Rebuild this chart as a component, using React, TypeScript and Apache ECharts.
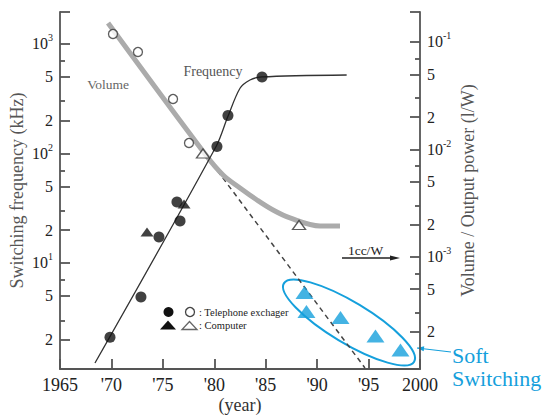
import React, { useEffect, useRef } from "react";
import * as echarts from "echarts";

const FONT = "Liberation Serif, DejaVu Serif, serif";
const BLUE = "#15a0dc";

// x axis (years)
const xMin = 1965;
const xMax = 2000;
const xStep = 5;

// y axes, expressed in decades (log10 of the value)
const leftLogRange = [0.032, 3.292];
const rightLogRange = [-4.045, -0.721];
const majorMantissas = [1, 2, 5];
const minorMantissas = [3, 7];

// Switching frequency (kHz): telephone exchanger (filled circles)
const telFreqYears = [1969.86, 1972.87, 1974.62, 1976.37, 1976.67, 1980.26, 1981.33, 1984.64];
const telFreqKHz = [2.1, 4.9, 17.3, 36, 24.2, 116, 222, 500];
// computer (filled triangles)
const compFreqYears = [1973.46, 1977.06];
const compFreqKHz = [19.2, 34.6];
// frequency trend line
const freqTrendYears = [1968.4, 1980.2, 1981.3, 1982.5, 1983.47, 1984.6, 1992.87];
const freqTrendKHz = [1.22, 117, 215, 394, 469, 500, 521];

// Volume / output power (l/W): telephone exchanger (open circles)
const telVolYears = [1970.15, 1972.58, 1975.99, 1977.54];
const telVolLW = [0.1187, 0.0807, 0.02946, 0.01147];
// computer (open triangles)
const compVolYears = [1978.9, 1988.24];
const compVolLW = [0.00916, 0.001977];
// volume trend (grey)
const volTrendYears = [1969.67, 1979.1, 1980.85, 1982.5, 1984.15, 1985.71, 1987.36, 1990.28, 1992.22];
const volTrendLW = [0.1503, 0.009063, 0.005777, 0.00437, 0.00338, 0.002727, 0.002298, 0.001935, 0.001935];
// extrapolation (dashed)
const volExtrapYears = [1979.78, 1994.65];
const volExtrapLW = [0.007389, 0.0000922];
// soft switching (blue triangles)
const softYears = [1988.77, 1988.96, 1992.27, 1995.67, 1998.1];
const softLW = [0.000465, 0.0003095, 0.000272, 0.000183, 0.0001356];

function decadeTicks(range: number[], mantissas: number[]) {
  const out: number[] = [];
  for (let d = Math.floor(range[0]); d <= Math.ceil(range[1]); d++) {
    for (const m of mantissas) {
      const v = d + Math.log10(m);
      if (v >= range[0] + 0.06 && v <= range[1] + 1e-9) out.push(v);
    }
  }
  return out;
}

const logLabel = (v: number) => {
  const d = Math.floor(v + 1e-6);
  const m = Math.round(Math.pow(10, v - d));
  return m === 1 ? `{b|10}{sup|${d}}` : `{b|${m}}`;
};

const toPts = (xs: number[], vs: number[]) => xs.map((x, i) => [x, Math.log10(vs[i])]);

const rich = {
  b: { fontSize: 16, fontFamily: FONT, color: "#222", lineHeight: 22, verticalAlign: "middle" },
  sup: { fontSize: 10, fontFamily: FONT, color: "#222", lineHeight: 10, verticalAlign: "top" },
};

const axisColor = "#555";

function majorAxis(range: number[], position: string, name: string, nameGap: number) {
  return {
    type: "value",
    position,
    min: range[0],
    max: range[1],
    name,
    nameLocation: "middle",
    nameGap,
    nameRotate: 90,
    nameMoveOverlap: false,
    nameTextStyle: { fontSize: 18, fontFamily: FONT, color: "#555" },
    axisLine: { show: true, onZero: false, lineStyle: { color: axisColor, width: 1.8 } },
    axisTick: {
      show: true,
      inside: true,
      length: 10,
      lineStyle: { color: axisColor, width: 1.8 },
      customValues: [...decadeTicks(range, majorMantissas), range[1]],
    },
    axisLabel: {
      show: true,
      customValues: decadeTicks(range, majorMantissas),
      formatter: logLabel,
      margin: 7,
      fontFamily: FONT,
      rich,
    },
    splitLine: { show: false },
  };
}

function minorAxis(range: number[], position: string) {
  return {
    type: "value",
    position,
    min: range[0],
    max: range[1],
    axisLine: { show: false, onZero: false },
    axisLabel: { show: false },
    splitLine: { show: false },
    axisTick: {
      show: true,
      inside: true,
      length: 5,
      lineStyle: { color: axisColor, width: 1.8 },
      customValues: decadeTicks(range, minorMantissas),
    },
  };
}

function arrowHead(tip: number[], tail: number[], len: number, half: number) {
  const dx = tail[0] - tip[0];
  const dy = tail[1] - tip[1];
  const l = Math.hypot(dx, dy);
  const ux = dx / l;
  const uy = dy / l;
  const bx = tip[0] + ux * len;
  const by = tip[1] + uy * len;
  return [tip, [bx - uy * half, by + ux * half], [bx + uy * half, by - ux * half]];
}

function txt(text: string, x: number, y: number, size: number, fill: string, align = "center", lineHeight?: number) {
  return {
    type: "text",
    x,
    y,
    silent: true,
    style: {
      text,
      fontSize: size,
      fontFamily: FONT,
      fill,
      lineHeight,
      align,
      verticalAlign: "middle",
      textAlign: align,
      textVerticalAlign: "middle",
    },
  };
}

export default function App() {
  const ref = useRef<HTMLDivElement>(null);

  useEffect(() => {
    if (!ref.current) return;
    const chart = echarts.init(ref.current, null, { renderer: "svg" });

    const softTip = [417, 348];
    const softTail = [451, 352];
    const ccTip = [400, 258];
    const ccTail = [342, 258];

    const option: any = {
      animation: false,
      backgroundColor: "#fff",
      textStyle: { fontFamily: FONT },
      grid: { left: 60, right: 126, top: 12, bottom: 47, containLabel: false, outerBoundsMode: "none" },
      xAxis: {
        type: "value",
        min: xMin,
        max: xMax,
        interval: xStep,
        name: "(year)",
        nameLocation: "middle",
        nameGap: 27,
        nameMoveOverlap: false,
        nameTextStyle: { fontSize: 18, lineHeight: 18, fontFamily: FONT, color: "#333" },
        axisLine: { onZero: false, lineStyle: { color: axisColor, width: 1.8 } },
        axisTick: { inside: true, length: 10, lineStyle: { color: axisColor, width: 1.8 } },
        axisLabel: {
          fontSize: 18,
          fontFamily: FONT,
          color: "#222",
          margin: 7,
          showMinLabel: true,
          showMaxLabel: true,
          formatter: (v: number) => (v === xMin || v === xMax ? String(v) : "'" + String(v).slice(2)),
        },
        splitLine: { show: false },
      },
      yAxis: [
        majorAxis(leftLogRange, "left", "Switching frequency (kHz)", 34),
        majorAxis(rightLogRange, "right", "Volume / Output power (l/W)", 39),
        minorAxis(leftLogRange, "left"),
        minorAxis(rightLogRange, "right"),
      ],
      series: [
        {
          type: "line",
          yAxisIndex: 1,
          data: toPts(volExtrapYears, volExtrapLW),
          symbol: "none",
          silent: true,
          lineStyle: { color: "#444", width: 1.5, type: [5, 4] },
          z: 1,
        },
        {
          type: "line",
          yAxisIndex: 1,
          data: toPts(volTrendYears, volTrendLW),
          smooth: 0.35,
          symbol: "none",
          silent: true,
          lineStyle: { color: "#ababab", width: 5 },
          z: 1,
        },
        {
          type: "line",
          yAxisIndex: 0,
          data: toPts(freqTrendYears, freqTrendKHz),
          smooth: 0.3,
          symbol: "none",
          silent: true,
          lineStyle: { color: "#333", width: 1.3 },
          z: 2,
        },
        {
          type: "scatter",
          yAxisIndex: 0,
          data: toPts(compFreqYears, compFreqKHz),
          symbol: "triangle",
          symbolSize: [13, 9],
          silent: true,
          itemStyle: { color: "#111" },
          z: 3,
        },
        {
          type: "scatter",
          yAxisIndex: 0,
          data: toPts(telFreqYears, telFreqKHz),
          symbol: "circle",
          symbolSize: 11,
          silent: true,
          itemStyle: { color: "#111" },
          z: 3,
        },
        {
          type: "scatter",
          yAxisIndex: 1,
          data: toPts(telVolYears, telVolLW),
          symbol: "circle",
          symbolSize: 9,
          silent: true,
          itemStyle: { color: "#fff", borderColor: "#333", borderWidth: 1.3 },
          z: 3,
        },
        {
          type: "scatter",
          yAxisIndex: 1,
          data: toPts(compVolYears, compVolLW),
          symbol: "triangle",
          symbolSize: [13, 9],
          silent: true,
          itemStyle: { color: "#fff", borderColor: "#333", borderWidth: 1.3 },
          z: 3,
        },
        {
          type: "scatter",
          yAxisIndex: 1,
          data: toPts(softYears, softLW),
          symbol: "triangle",
          symbolSize: [18, 13],
          silent: true,
          itemStyle: { color: BLUE },
          z: 4,
        },
      ],
      graphic: [
        txt("Volume", 108, 84, 13.5, "#666"),
        txt("Frequency", 213, 71, 14, "#555"),
        // inline legend
        { type: "circle", silent: true, shape: { cx: 168.5, cy: 312, r: 5 }, style: { fill: "#111" } },
        { type: "circle", silent: true, shape: { cx: 190, cy: 312, r: 4.5 }, style: { fill: "#fff", stroke: "#444", lineWidth: 1.3 } },
        txt(": Telephone exchager", 199, 312, 10.5, "#222", "left"),
        { type: "polygon", silent: true, shape: { points: [[160, 329.5], [176, 329.5], [168, 320.5]] }, style: { fill: "#111" } },
        { type: "polygon", silent: true, shape: { points: [[182, 329.5], [197, 329.5], [189.5, 321.5]] }, style: { fill: "#fff", stroke: "#666", lineWidth: 1.3 } },
        txt(": Computer", 199, 325, 10.5, "#222", "left"),
        // 1cc/W marker
        txt("1cc/W", 365.5, 250, 13.5, "#222"),
        { type: "line", silent: true, shape: { x1: ccTail[0], y1: ccTail[1], x2: ccTip[0] - 6, y2: ccTip[1] }, style: { stroke: "#222", lineWidth: 1.3 } },
        { type: "polygon", silent: true, shape: { points: arrowHead(ccTip, ccTail, 10, 2.6) }, style: { fill: "#222" } },
        // soft switching annotation
        {
          type: "ellipse",
          silent: true,
          x: 349,
          y: 322.5,
          rotation: (-31 * Math.PI) / 180,
          shape: { cx: 0, cy: 0, rx: 76, ry: 20.5 },
          style: { fill: "none", stroke: BLUE, lineWidth: 2 },
        },
        { type: "line", silent: true, shape: { x1: softTail[0], y1: softTail[1], x2: softTip[0], y2: softTip[1] }, style: { stroke: BLUE, lineWidth: 1.2 } },
        { type: "polygon", silent: true, shape: { points: arrowHead(softTip, softTail, 7, 2.5) }, style: { fill: BLUE } },
        txt("Soft\nSwitching", 452, 367, 22, BLUE, "left", 23),
      ],
    };

    chart.setOption(option);
    return () => chart.dispose();
  }, []);

  return (
    <div
      ref={ref}
      style={{ position: "fixed", left: 0, top: 0, width: 546, height: 416, background: "#fff" }}
    />
  );
}
